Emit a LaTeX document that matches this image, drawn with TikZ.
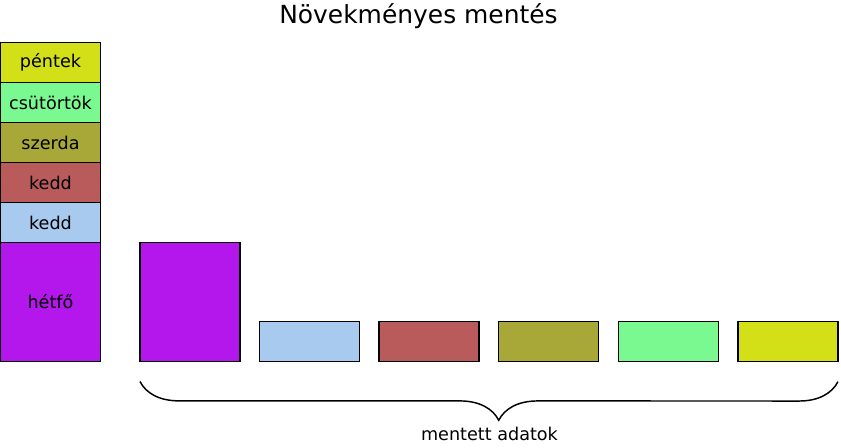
\documentclass[tikz,border=0pt]{standalone}
\usepackage{fontspec}
\setmainfont{DejaVu Sans}
\usetikzlibrary{positioning,calc,decorations.pathreplacing}

\definecolor{monc}{HTML}{B317EC}
\definecolor{tuec}{HTML}{A8CAEE}
\definecolor{wedc}{HTML}{BA5B5B}
\definecolor{thuc}{HTML}{A8A838}
\definecolor{fric}{HTML}{7AF990}
\definecolor{satc}{HTML}{D3E017}

\begin{document}
\begin{tikzpicture}[x=0.75pt, y=-0.75pt,
  day/.style={draw, line width=1.1pt, outer sep=0pt, minimum width=75pt, minimum height=30pt, inner sep=0pt, font=\fontsize{13.2}{15}\selectfont},
  tall/.style={minimum height=89.25pt}]
\useasboundingbox (0,0) rectangle (841,447);
\node[font=\fontsize{18.7}{22}\selectfont] (title) at (418.5,16) {Növekményes mentés};
% heti halmaz
\node[day, tall, fill=monc] (mon) at (50.5,302) {hétfő};
\node[day, fill=tuec, above=0pt of mon] (tue) {kedd};
\node[day, fill=wedc, above=0pt of tue] (wed) {kedd};
\node[day, fill=thuc, above=0pt of wed] (thu) {szerda};
\node[day, fill=fric, above=0pt of thu] (fri) {csütörtök};
\node[day, fill=satc, above=0pt of fri] (sat) {péntek};
% mentett darabok
\node[day, tall, fill=monc] (bmon) at (190,302) {};
\node[day, fill=tuec] (btue) at (309.5,341.7) {};
\node[day, fill=wedc, right=14.7pt of btue] (bwed) {};
\node[day, fill=thuc, right=14.7pt of bwed] (bthu) {};
\node[day, fill=fric, right=14.7pt of bthu] (bfri) {};
\node[day, fill=satc, right=14.7pt of bfri] (bsat) {};
\draw[line width=1.1pt, decorate, decoration={brace, mirror, amplitude=29pt, aspect=0.514}]
  ($(bmon.south west)+(0,20)$) -- ($(bsat.south east)+(0,20)$);
\node[font=\fontsize{13.2}{15}\selectfont] (saved) at (489.5,434) {mentett adatok};
\end{tikzpicture}
\end{document}
